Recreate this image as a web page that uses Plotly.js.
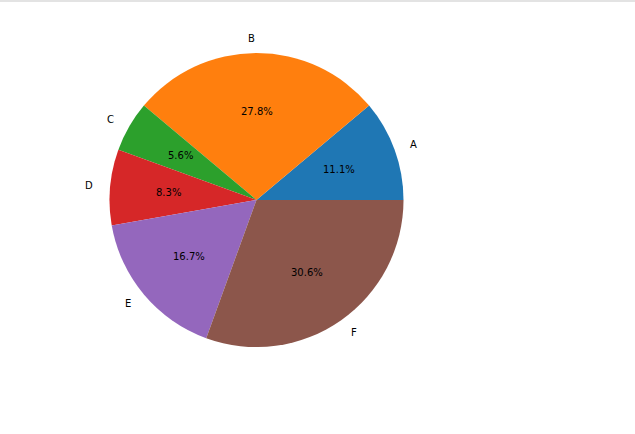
<!DOCTYPE html>
<html>
<head>
<meta charset="utf-8">
<script src="https://cdn.plot.ly/plotly-3.0.1.min.js"></script>
<style>html,body{margin:0;padding:0;background:#fff;}#chart{width:635px;height:434px;}</style>
</head>
<body>
<div id="chart"></div>
<script>
var labels = ['A', 'B', 'C', 'D', 'E', 'F'];
var values = [4, 10, 2, 3, 6, 11];
var colors = ['#1f77b4', '#ff7f0e', '#2ca02c', '#d62728', '#9467bd', '#8c564b'];

var W = 635, H = 434;
var cx = 256.5, cy = 200, R = 147;

var total = values.reduce(function(a, b){ return a + b; }, 0);
var annotations = [];
var cum = 0;
for (var i = 0; i < values.length; i++) {
  var th = 2 * Math.PI * (cum + values[i] / 2) / total;
  cum += values[i];
  var c = Math.cos(th), s = Math.sin(th);
  var lx = cx + 1.1 * R * c, ly = cy - 1.1 * R * s;
  annotations.push({
    xref: 'paper', yref: 'paper', x: lx / W, y: (H - ly) / H,
    text: labels[i], showarrow: false,
    xanchor: c > 1e-9 ? 'left' : 'right', yanchor: 'middle',
    font: {family: 'DejaVu Sans', size: 10, color: '#000'}
  });
  var px = cx + 0.6 * R * c, py = cy - 0.6 * R * s;
  annotations.push({
    xref: 'paper', yref: 'paper', x: px / W, y: (H - py) / H,
    text: (100 * values[i] / total).toFixed(1) + '%', showarrow: false,
    xanchor: 'center', yanchor: 'middle',
    font: {family: 'DejaVu Sans', size: 10, color: '#000'}
  });
}

var trace = {
  type: 'pie',
  labels: labels,
  values: values,
  sort: false,
  direction: 'counterclockwise',
  rotation: 90 - 360 * values[0] / total,
  textinfo: 'none',
  hoverinfo: 'label+percent',
  marker: {colors: colors, line: {width: 0}},
  domain: {x: [(cx - R) / W, (cx + R) / W], y: [(H - cy - R) / H, (H - cy + R) / H]},
  showlegend: false
};

var layout = {
  width: W, height: H,
  margin: {l: 0, r: 0, t: 0, b: 0},
  paper_bgcolor: '#ffffff',
  showlegend: false,
  annotations: annotations,
  shapes: [{type: 'line', xref: 'paper', yref: 'paper', x0: 0, x1: 1, y0: 1 - 1/H, y1: 1 - 1/H,
            line: {color: '#e3e3e3', width: 2}}]
};

Plotly.newPlot('chart', [trace], layout, {displayModeBar: false, staticPlot: true});
</script>
</body>
</html>
